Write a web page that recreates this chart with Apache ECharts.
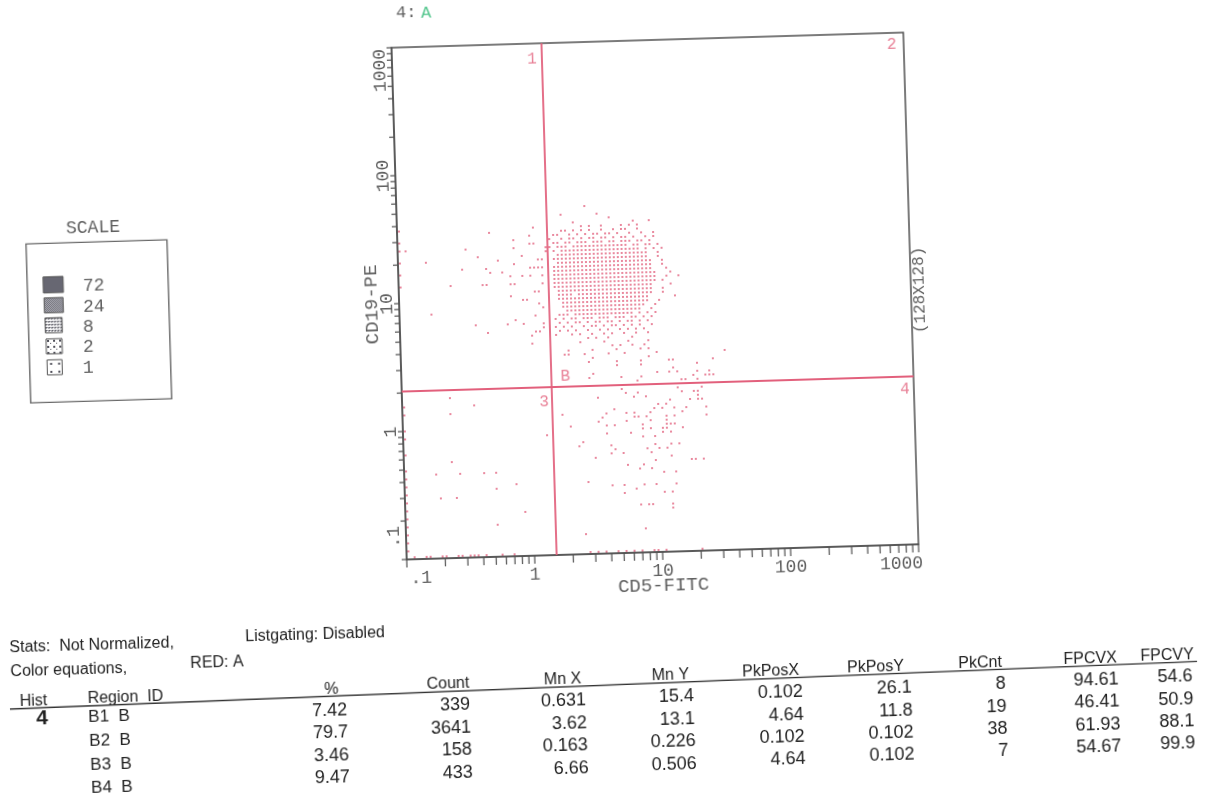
<!DOCTYPE html>
<html>
<head>
<meta charset="utf-8">
<title>CD5-FITC vs CD19-PE dot plot</title>
<script src="https://cdn.jsdelivr.net/npm/echarts@6/dist/echarts.min.js"></script>
<style>
html, body { margin:0; padding:0; width:1209px; height:797px; overflow:hidden; background:#fff; }
</style>
</head>
<body>
<div id="chart"></div>
<script>
// ======================= DATA =======================
// Both axes: 128 channels over 4 decades (0.1 .. 1000)
const CH_PER_DECADE = 32;
const AXIS_MIN = 0.1, AXIS_MAX = 1000;
const xTickLabels = ['.1', '1', '10', '100', '1000'];
const yTickLabels = ['.1', '1', '10', '100', '1000'];
const minorTicks = [0.1,0.2,0.3,0.4,0.5,0.6,0.7,0.8,0.9,
                    1,2,3,4,5,6,7,8,9,
                    10,20,30,40,50,60,70,80,90,
                    100,200,300,400,500,600,700,800,900,1000];
const xAxisName = 'CD5-FITC';
const yAxisName = 'CD19-PE';
const resolutionLabel = '(128X128)';
const histTitle = '4:';
const gateTitle = 'A';

// quadrant cursor positions (data units)
const quadX = 1.49;
const quadY = 2.05;
const quadrantNames = ['1', '2', '3', '4'];
const regionMark = 'B';

// density scale legend
const scaleTitle = 'SCALE';
const scaleLevels = [72, 24, 8, 2, 1];

// stats table
const statsLine1 = ['Stats:  Not Normalized,', 'Listgating: Disabled'];
const statsLine2 = ['Color equations,', 'RED: A'];
const histHeader = ['Hist', 'Region  ID'];
const histNumber = '4';
const tableHeaders = ['%', 'Count', 'Mn X', 'Mn Y', 'PkPosX', 'PkPosY', 'PkCnt', 'FPCVX', 'FPCVY'];
const regionIds = ['B1  B', 'B2  B', 'B3  B', 'B4  B'];
const pct    = ['7.42', '79.7', '3.46', '9.47'];
const count  = ['339', '3641', '158', '433'];
const mnX    = ['0.631', '3.62', '0.163', '6.66'];
const mnY    = ['15.4', '13.1', '0.226', '0.506'];
const pkPosX = ['0.102', '4.64', '0.102', '4.64'];
const pkPosY = ['26.1', '11.8', '0.102', '0.102'];
const pkCnt  = ['8', '19', '38', '7'];
const fpcvX  = ['94.61', '46.41', '61.93', '54.67'];
const fpcvY  = ['54.6', '50.9', '88.1', '99.9'];

// Events in channel units (0..127).
// Main B2 cluster as a cell map: row k is Y channel (clusterTopCh - k),
// character i is X channel (clusterX0 + i); '#' = event shown.
const clusterX0 = 38;
const clusterTopCh = 87;
const clusterRows = [
  ".........#",                              // 87
  "",                                        // 86
  "...#........#",                           // 85
  "...............#",                        // 84
  "......#..............#...#",              // 83
  "........#.#..#....#.#.#",                 // 82
  "...##.#.#.#..#..#.##..#",                 // 81
  ".##..#.#.#.##.##.#..#..#..#",             // 80
  "#..#.##.#.##.##.#.##.#..#.#",             // 79
  ".##.##.###.###.##.###.##.#",              // 78
  "#.###.##############.##.##.#",            // 77
  ".#.####################.#.#.#",           // 76
  "..#######################..#",            // 75
  ".########################..#",            // 74
  "..########################..#",           // 73
  ".#########################..#",           // 72
  ".#########################...#",          // 71
  ".##########################...#",         // 70
  ".##########################..#..#",       // 69
  ".##########################.#",           // 68
  ".#########################....#",         // 67
  "..########################..#",           // 66
  "..####.###################..#",           // 65
  "..#######################......#",        // 64
  "...######################..#",            // 63
  "...#####################..#",             // 62
  "....###################..#",              // 61
  "..###.###############.#.#.#",             // 60
  ".#.#.##.###.###.###.##.#.#",              // 59
  "..#.#.##.#.##.##.#.##.#.#",               // 58
  ".#.#.#..#.##.#.##.#.#.#..#",              // 57
  "..#.#.#..#..#.#..#.#.#.#",                // 56
  ".#...#.#..#..#.#..#..#..#",               // 55
  ".........#.#..#.....#",                   // 54
  ".......#.....#.....#....#",               // 53
  "...............#.#..#..#",                // 52
  "....#.....#.....#.....#.#",               // 51
  "...##...#.....#...#.......#................#", // 50
  "..........#.............#",               // 49
  ".........#......#.....#......##.........#",    // 48
  "................#.....#.............#",   // 47
  "..............................#",         // 46
  "..........#...............#..#.#....#..#",     // 45
  ".........#.......#....#............#..###",    // 44
  ".....................#..........##..#",   // 43
  ".......................#..........#"      // 42
];
// B1 (upper left) events [xCh, yCh]
const q1Points = [[2,77],[7,74],[8,61],[13,68],[16,72],[17,77],[19,58],[20,75],[21,68],[22,68],
  [22,56],[22,72],[23,81],[23,71],[25,74],[26,71],[27,58],[28,70],[28,65],[28,68],[29,68],[29,79],
  [29,77],[29,59],[29,73],[31,70],[31,75],[31,64],[31,58],[32,64],[33,78],[34,78],[33,72],[34,72],
  [33,80],[34,82],[33,70],[33,55],[33,53],[34,66],[34,60],[34,56],[35,56],[35,74],[36,74],[35,72],
  [36,72],[35,66],[35,63],[36,70],[36,62],[36,58],[37,76],[37,77],[36,57],[36,68]];
// B3 (lower left) events
const q3Points = [[36,30],[12,40],[18,38],[12,36],[12,24],[8,21],[14,21],[20,21],[23,21],[23,17],
  [28,18],[9,15],[13,15],[30,11],[23,8]];
// B4 (lower right) events
const q4Points = [[55,41],[56,40],[58,39],[59,40],[61,39],[69,41],[70,40],[73,40],[74,38],[74,40],
  [75,41],[49,39],[40,35],[42,32],[44,27],[45,28],[51,35],[53,36],[49,33],[50,34],[51,32],[53,32],
  [51,30],[56,35],[58,35],[59,34],[61,34],[62,35],[63,36],[64,37],[65,36],[66,37],[56,33],[58,34],
  [60,32],[62,33],[57,30],[60,31],[62,31],[65,31],[66,32],[60,29],[63,29],[65,30],[67,30],[66,34],
  [66,33],[66,31],[67,38],[68,36],[70,35],[71,36],[72,38],[74,39],[68,34],[67,32],[68,32],[70,31],
  [75,38],[76,36],[76,34],[52,27],[53,26],[52,25],[55,25],[61,26],[63,27],[64,26],[66,26],[67,27],
  [69,27],[62,25],[48,24],[56,22],[59,21],[60,22],[62,21],[63,23],[67,24],[72,23],[73,23],[75,23],
  [65,20],[68,20],[68,17],[46,18],[52,17],[55,17],[58,16],[60,17],[63,17],[65,15],[67,15],[55,15],
  [59,12],[61,12],[62,12],[67,12],[67,11],[45,5],[60,6]];
// events piled on the axes (first channel)
const PILEUP_CH = 0.5;
const leftPileupYCh = [82,79,77,74,71,68,38,36,32,30,26,22,20,18,16,14,12,10,8,6,4,2];
const bottomPileupXCh = [2,5,6,9,10,13,14,16,17,18,20,24,27,46,48,50,53,55,57,59,62,63,65,74];

// ======================= LAYOUT / STYLE =======================
const M = 60;                  // extra canvas margin so the tilted page has no gaps
const CX = 655, CY = 296;      // rotation centre (page px) = plot centre
const ROT = -1.7;              // scan tilt of the plot, degrees
const W = 1209 + 2 * M, H = 797 + 2 * M;
const G_LEFT = 399, G_TOP = 40, G_SIZE = 512;
const TABLE_ROT = -2.3, TABLE_ORIGIN = [0, 710];

const MONO = "'Liberation Mono', 'DejaVu Sans Mono', monospace";
const SANS = "'Liberation Sans', Arial, sans-serif";
const AXIS_GRAY = '#505050';
const TEXT_GRAY = '#5f5f5f';
const LINE_PINK = '#e2607c';
const DOT_PINK = '#e46c86';
const A_GREEN = '#4fc48a';

const chartEl = document.getElementById('chart');
Object.assign(chartEl.style, {
  position: 'absolute', left: (-M) + 'px', top: (-M) + 'px',
  width: W + 'px', height: H + 'px',
  transform: 'rotate(' + ROT + 'deg)',
  transformOrigin: (CX + M) + 'px ' + (CY + M) + 'px'
});

const rad = ROT * Math.PI / 180, cA = Math.cos(rad), sA = Math.sin(rad);
function P(X, Y) { // page coords -> coords inside the rotated canvas
  const dx = X - CX, dy = Y - CY;
  return [CX + M + dx * cA + dy * sA, CY + M - dx * sA + dy * cA];
}
const rb = TABLE_ROT * Math.PI / 180, cB = Math.cos(rb), sB = Math.sin(rb);
function PT(tx, ty) { // table frame -> canvas coords
  return P(TABLE_ORIGIN[0] + tx * cB - ty * sB, TABLE_ORIGIN[1] + tx * sB + ty * cB);
}

// ======================= BUILD =======================
const toVal = ch => AXIS_MIN * Math.pow(10, ch / CH_PER_DECADE);
const events = [];
clusterRows.forEach((row, k) => {
  const ych = clusterTopCh - k;
  for (let i = 0; i < row.length; i++) if (row[i] === '#') events.push([toVal(clusterX0 + i), toVal(ych)]);
});
q1Points.concat(q3Points, q4Points).forEach(p => events.push([toVal(p[0]), toVal(p[1])]));
leftPileupYCh.forEach(c => events.push([toVal(PILEUP_CH), toVal(c)]));
bottomPileupXCh.forEach(c => events.push([toVal(c), toVal(PILEUP_CH)]));

function decadeLabel(v, labels, lo, hi) {
  const e = Math.log10(v), r = Math.round(e);
  if (Math.abs(e - r) > 0.01) return '';
  const i = r + 1;
  if (i < 0 || i >= labels.length) return '';
  const key = i === 0 ? lo : (i === labels.length - 1 ? hi : 'm');
  return '{' + key + '|' + labels[i] + '}';
}
const lblFont = { fontFamily: MONO, fontSize: 18, color: TEXT_GRAY };

function T(pt, text, o) {
  o = o || {};
  const align = o.align || 'left', va = o.va || 'middle';
  return {
    type: 'text', x: pt[0], y: pt[1], rotation: o.rotation || 0, silent: true, z: 10,
    style: {
      text: text, fill: o.fill || '#222', font: o.font || ('16px ' + SANS),
      align: align, textAlign: align, verticalAlign: va, textVerticalAlign: va
    }
  };
}
function makePattern(size, bg, dots) {
  const c = document.createElement('canvas');
  c.width = size; c.height = size;
  const g = c.getContext('2d');
  g.fillStyle = bg; g.fillRect(0, 0, size, size);
  g.fillStyle = '#4e4e58';
  dots.forEach(d => g.fillRect(d[0], d[1], d[2] || 1, d[3] || 1));
  return { image: c, repeat: 'repeat' };
}

const graphics = [];
// title "4: A"
graphics.push(T(P(396, 13), histTitle, { font: '17px ' + MONO, fill: TEXT_GRAY }));
graphics.push(T(P(421, 13), gateTitle, { font: '17px ' + MONO, fill: A_GREEN }));
// resolution label on the right of the plot
graphics.push(T(P(920, 290), resolutionLabel, { font: '16px ' + MONO, fill: TEXT_GRAY, align: 'center', rotation: Math.PI / 2 }));

// density scale legend
graphics.push(T(P(93, 228), scaleTitle, { font: '18px ' + MONO, fill: TEXT_GRAY, align: 'center' }));
const boxTL = P(26, 244);
graphics.push({ type: 'rect', x: boxTL[0], y: boxTL[1], silent: true, z: 10,
  shape: { x: 0, y: 0, width: 141, height: 159 },
  style: { fill: 'none', stroke: '#6a6a6a', lineWidth: 1.4 } });
const swatchFills = [
  '#676772',
  makePattern(2, '#cfcfd6', [[0, 0], [1, 1]]),
  makePattern(3, '#ffffff', [[0, 0, 2, 1], [0, 1]]),
  makePattern(6, '#ffffff', [[1, 1, 2, 2], [4, 4]]),
  makePattern(8, '#ffffff', [[3, 3, 2, 2]])
];
const swatchBoxes = [[43, 277, 20, 16], [44, 298, 19, 15], [45, 318, 17, 15], [46, 339, 16, 15], [47, 360, 15, 15]];
const swatchLabelY = [286, 307, 327, 347, 368];
scaleLevels.forEach((lv, i) => {
  const b = swatchBoxes[i], p = P(b[0], b[1]);
  graphics.push({ type: 'rect', x: p[0], y: p[1], silent: true, z: 10,
    shape: { x: 0, y: 0, width: b[2], height: b[3] },
    style: { fill: swatchFills[i], stroke: '#555', lineWidth: 1 } });
  graphics.push(T(P(83, swatchLabelY[i]), String(lv), { font: '18px ' + MONO, fill: TEXT_GRAY }));
});

// stats block
graphics.push(T(PT(12, -62), statsLine1[0], { font: '16px ' + SANS }));
graphics.push(T(PT(248, -63), statsLine1[1], { font: '16px ' + SANS }));
graphics.push(T(PT(12, -38), statsLine2[0], { font: '16px ' + SANS }));
graphics.push(T(PT(192, -39), statsLine2[1], { font: '16px ' + SANS }));
graphics.push(T(PT(20, -8), histHeader[0], { font: '16px ' + SANS }));
graphics.push(T(PT(88, -8), histHeader[1], { font: '16px ' + SANS }));
const headRight = [339, 470, 582, 690, 800, 905, 1003, 1118, 1195];
tableHeaders.forEach((h, c) => graphics.push(T(PT(headRight[c], -7.5), h, { font: '16px ' + SANS, align: 'right' })));
const l0 = PT(10, -0.5), l1 = PT(1198, -0.5);
graphics.push({ type: 'line', silent: true, z: 10,
  shape: { x1: l0[0], y1: l0[1], x2: l1[0], y2: l1[1] },
  style: { stroke: '#333', lineWidth: 1.4 } });
graphics.push(T(PT(36, 10), histNumber, { font: 'bold 21px ' + SANS }));
const regionRowY = [11, 35, 58.5, 81.5];
const valueRowY = [14, 36.7, 59, 81.5];
regionIds.forEach((r, i) => graphics.push(T(PT(88, regionRowY[i]), r, { font: '17px ' + SANS })));
const tableCols = [pct, count, mnX, mnY, pkPosX, pkPosY, pkCnt, fpcvX, fpcvY];
const colRight = [347, 470, 586, 694, 803, 912, 1006, 1119, 1193];
tableCols.forEach((col, c) => col.forEach((v, r) =>
  graphics.push(T(PT(colRight[c], valueRowY[r]), v, { font: '18px ' + SANS, align: 'right' }))));

// ticks drawn through the axes' own scales
function tickSeries(isX) {
  return {
    type: 'custom', silent: true, clip: false, z: 4,
    data: minorTicks.map(v => isX ? [v, AXIS_MIN] : [AXIS_MIN, v]),
    renderItem: (params, api) => {
      const p = api.coord([api.value(0), api.value(1)]);
      return {
        type: 'line',
        shape: isX ? { x1: p[0], y1: p[1], x2: p[0], y2: p[1] + 8 } : { x1: p[0] - 5, y1: p[1], x2: p[0], y2: p[1] },
        style: { stroke: AXIS_GRAY, lineWidth: 1.2 }
      };
    }
  };
}

const option = {
  animation: false,
  backgroundColor: '#ffffff',
  grid: {
    left: G_LEFT + M, top: G_TOP + M, width: G_SIZE, height: G_SIZE,
    show: true, borderColor: AXIS_GRAY, borderWidth: 1.5, backgroundColor: 'transparent',
    containLabel: false, outerBoundsMode: 'none'
  },
  xAxis: {
    type: 'log', logBase: 10, min: AXIS_MIN, max: AXIS_MAX, splitNumber: 4,
    name: xAxisName, nameLocation: 'middle', nameGap: 24, nameMoveOverlap: false,
    nameTextStyle: { fontFamily: MONO, fontSize: 19, color: TEXT_GRAY },
    axisLine: { show: true, onZero: false, lineStyle: { color: AXIS_GRAY, width: 1.5 } },
    axisTick: { show: false }, minorTick: { show: false },
    splitLine: { show: false }, minorSplitLine: { show: false },
    axisLabel: {
      show: true, margin: 10, showMinLabel: true, showMaxLabel: true, hideOverlap: false,
      fontFamily: MONO, fontSize: 18, color: TEXT_GRAY,
      formatter: v => decadeLabel(v, xTickLabels, 'lo', 'hi'),
      rich: {
        lo: Object.assign({ padding: [0, 0, 0, 28] }, lblFont),
        hi: Object.assign({ padding: [0, 35, 0, 0] }, lblFont),
        m: Object.assign({}, lblFont)
      }
    }
  },
  yAxis: {
    type: 'log', logBase: 10, min: AXIS_MIN, max: AXIS_MAX, splitNumber: 4,
    name: yAxisName, nameLocation: 'middle', nameGap: 18, nameRotate: 90, nameMoveOverlap: false,
    nameTextStyle: { fontFamily: MONO, fontSize: 19, color: TEXT_GRAY },
    axisLine: { show: true, onZero: false, lineStyle: { color: AXIS_GRAY, width: 1.5 } },
    axisTick: { show: false }, minorTick: { show: false },
    splitLine: { show: false }, minorSplitLine: { show: false },
    axisLabel: {
      show: true, rotate: 90, margin: 3, showMinLabel: true, showMaxLabel: true, hideOverlap: false,
      fontFamily: MONO, fontSize: 18, color: TEXT_GRAY,
      formatter: v => decadeLabel(v, yTickLabels, 'lo', 'hi'),
      rich: {
        lo: Object.assign({ padding: [0, 0, 0, 46] }, lblFont),
        hi: Object.assign({ padding: [0, 45, 0, 0] }, lblFont),
        m: Object.assign({}, lblFont)
      }
    }
  },
  series: [
    {
      type: 'scatter', name: 'events', silent: true, clip: false, z: 3,
      symbol: 'circle', symbolSize: 2.1,
      itemStyle: { color: DOT_PINK, opacity: 1 },
      data: events,
      markLine: {
        silent: true, animation: false, symbol: ['none', 'none'],
        label: { show: false },
        lineStyle: { color: LINE_PINK, width: 1.8, type: 'solid' },
        emphasis: { disabled: true },
        data: [{ xAxis: quadX }, { yAxis: quadY }]
      }
    },
    tickSeries(true),
    tickSeries(false),
    {
      type: 'scatter', name: 'quadrant labels', silent: true, clip: false, z: 6,
      symbolSize: 1, itemStyle: { color: 'rgba(0,0,0,0)' },
      label: { show: true, position: 'inside', fontFamily: MONO, fontSize: 16, color: LINE_PINK },
      data: [
        { value: [quadX, AXIS_MAX], label: { formatter: quadrantNames[0], offset: [-10, 16] } },
        { value: [AXIS_MAX, AXIS_MAX], label: { formatter: quadrantNames[1], offset: [-12, 12] } },
        { value: [quadX, quadY], label: { formatter: quadrantNames[2], offset: [-8, 15] } },
        { value: [AXIS_MAX, quadY], label: { formatter: quadrantNames[3], offset: [-9, 13] } },
        { value: [quadX, quadY], label: { formatter: regionMark, offset: [14, -10] } }
      ]
    }
  ],
  graphic: graphics
};

const chart = echarts.init(chartEl, null, { renderer: 'canvas', width: W, height: H });
chart.setOption(option);
</script>
</body>
</html>
